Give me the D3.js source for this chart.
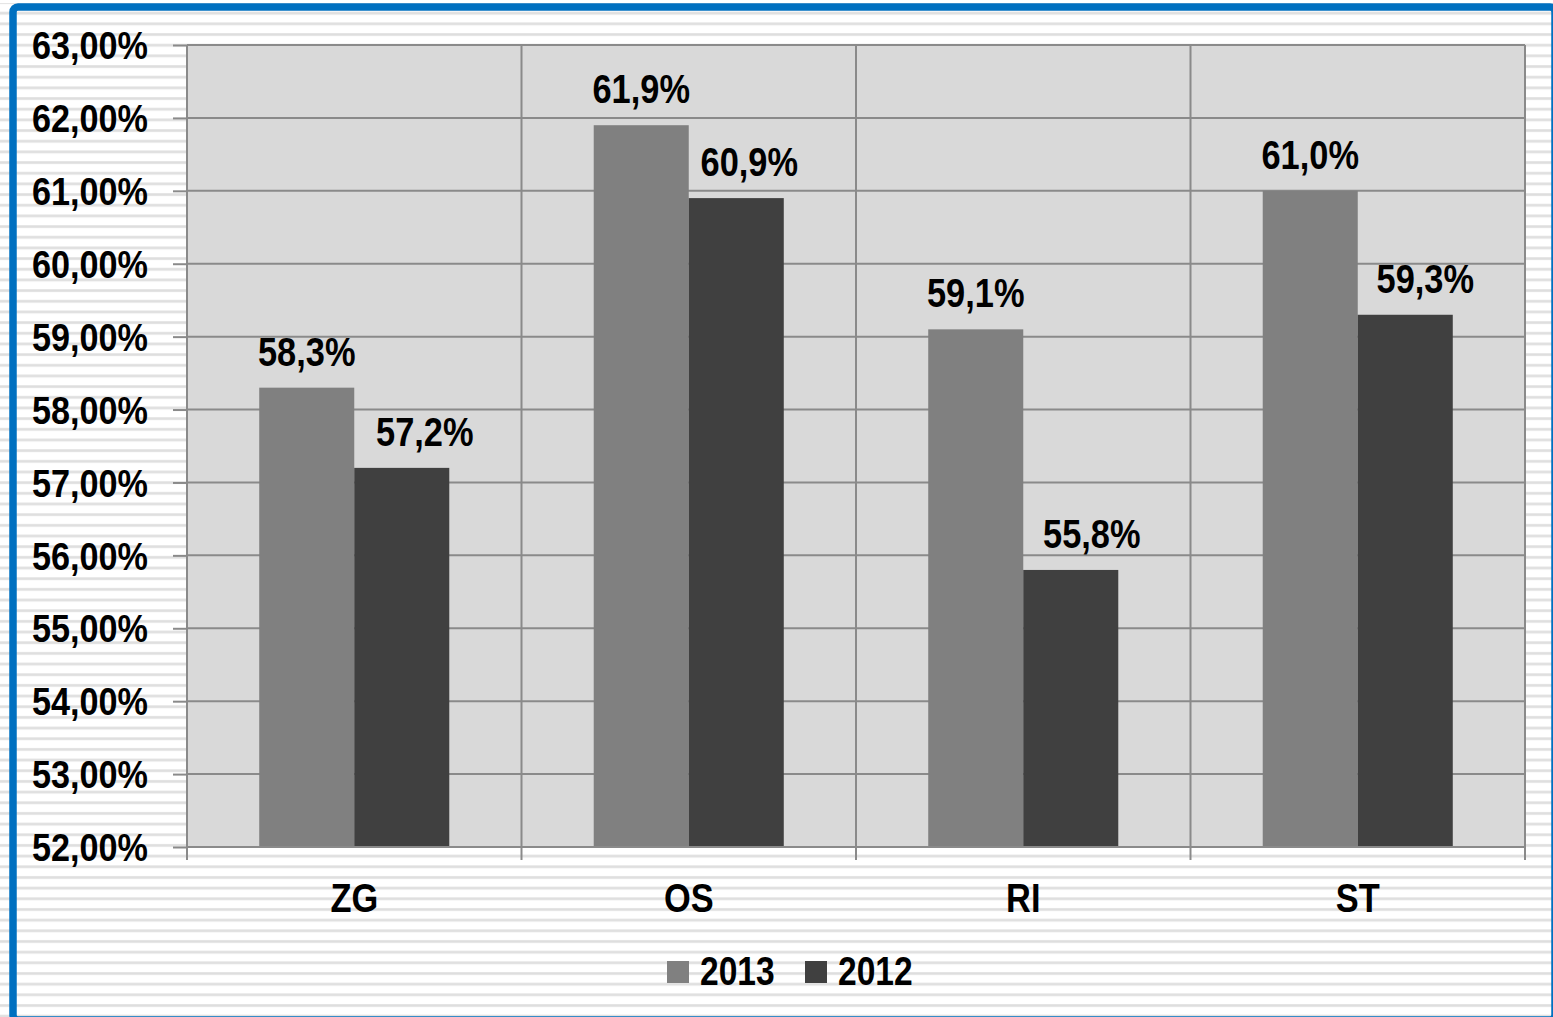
<!DOCTYPE html>
<html>
<head>
<meta charset="utf-8">
<script src="https://cdn.jsdelivr.net/npm/d3@7"></script>
<style>
  html, body { margin: 0; padding: 0; background: #fff; }
  svg { display: block; }
  text { font-family: "Liberation Sans", Arial, sans-serif; font-weight: bold; fill: #000; }
</style>
</head>
<body>
<svg id="chart" width="1553" height="1017"></svg>
<script>
// data
const categories = ['ZG', 'OS', 'RI', 'ST'];
const seriesNames = ['2013', '2012'];
const values2013 = [58.3, 61.9, 59.1, 61.0];
const values2012 = [57.2, 60.9, 55.8, 59.3];
const yTicks = [52, 53, 54, 55, 56, 57, 58, 59, 60, 61, 62, 63];
const seriesColors = ['#808080', '#404040'];

const W = 1553, H = 1017;
const plot = { left: 187, right: 1525, top: 45, bottom: 847 };
const GRID = '#8a8a8a';
// the 2012 labels sit nudged right of their bars (overlap avoidance in the original)
const LABEL_NUDGE = [[0, 0, 0, 0], [23, 13, 21, 20]];

const hr = d3.formatLocale({ decimal: ',', thousands: '.', grouping: [3], currency: ['', ' kn'] });
const fmtTick = v => hr.format('.2f')(v) + '%';
const fmtLabel = v => hr.format('.1f')(v) + '%';

// no narrow font installed, so squeeze the regular bold one horizontally
function narrow(sel, sx) {
  sel.each(function () {
    const t = d3.select(this);
    const tx = +t.attr('x') || 0, ty = +t.attr('y') || 0;
    t.attr('transform', `translate(${tx},${ty}) scale(${sx},1)`).attr('x', 0).attr('y', 0);
  });
}

const svg = d3.select('#chart');

// striped page background
const defs = svg.append('defs');
const pat = defs.append('pattern')
  .attr('id', 'stripes')
  .attr('patternUnits', 'userSpaceOnUse')
  .attr('width', 8)
  .attr('height', 10.67)
  .attr('y', 1);
pat.append('rect').attr('width', 8).attr('height', 10.67).attr('fill', '#ffffff');
pat.append('rect').attr('y', 0).attr('width', 8).attr('height', 3).attr('fill', '#e6e6e6');
pat.append('rect').attr('y', 0.8).attr('width', 8).attr('height', 1.4).attr('fill', '#dedede');

svg.append('rect').attr('width', W).attr('height', H).attr('fill', 'url(#stripes)');
svg.append('rect').attr('width', W).attr('height', 3).attr('fill', '#fff');

// blue frame
svg.append('rect')
  .attr('x', 13).attr('y', 7)
  .attr('width', 1542).attr('height', 1013)
  .attr('rx', 5)
  .attr('fill', 'none')
  .attr('stroke', '#0070c0')
  .attr('stroke-width', 7.5);

// scales
const x = d3.scaleBand().domain(categories).range([plot.left, plot.right]).padding(0);
const xs = d3.scaleBand().domain(seriesNames).range([0, x.bandwidth()])
  .paddingInner(0).paddingOuter(0.76);
const y = d3.scaleLinear().domain([52, 63]).range([plot.bottom, plot.top]);

// plot area
svg.append('rect')
  .attr('x', plot.left).attr('y', plot.top)
  .attr('width', plot.right - plot.left).attr('height', plot.bottom - plot.top)
  .attr('fill', '#d9d9d9');

// horizontal gridlines
svg.append('g').selectAll('line').data(yTicks).join('line')
  .attr('x1', plot.left).attr('x2', plot.right)
  .attr('y1', d => y(d)).attr('y2', d => y(d))
  .attr('stroke', GRID).attr('stroke-width', 2);

// vertical gridlines at category borders
const borders = categories.map(c => x(c)).concat([plot.right]);
svg.append('g').selectAll('line').data(borders).join('line')
  .attr('x1', d => d).attr('x2', d => d)
  .attr('y1', plot.top).attr('y2', plot.bottom)
  .attr('stroke', GRID).attr('stroke-width', 2);

// bars
const rows = categories.map((c, i) => ({ cat: c, i, vals: [values2013[i], values2012[i]] }));
const groups = svg.append('g').selectAll('g').data(rows).join('g')
  .attr('transform', d => `translate(${x(d.cat)},0)`);
groups.selectAll('rect')
  .data(d => d.vals.map((v, j) => ({ s: seriesNames[j], v, j, i: d.i })))
  .join('rect')
  .attr('x', d => xs(d.s))
  .attr('width', xs.bandwidth())
  .attr('y', d => y(d.v))
  .attr('height', d => y(52) - y(d.v))
  .attr('fill', d => seriesColors[d.j]);

// data labels
groups.selectAll('text')
  .data(d => d.vals.map((v, j) => ({ s: seriesNames[j], v, j, i: d.i })))
  .join('text')
  .attr('x', d => xs(d.s) + xs.bandwidth() / 2 + LABEL_NUDGE[d.j][d.i])
  .attr('y', d => y(d.v) - 22)
  .attr('text-anchor', 'middle')
  .attr('font-size', 40)
  .text(d => fmtLabel(d.v))
  .call(narrow, 0.86);

// y axis
const yAxis = svg.append('g')
  .attr('transform', `translate(${plot.left},0)`)
  .call(d3.axisLeft(y).tickValues(yTicks).tickFormat(fmtTick).tickSize(14).tickPadding(25));
yAxis.select('.domain').attr('d', `M0,${plot.top}V${plot.bottom + 13}`).attr('stroke', GRID).attr('stroke-width', 2);
yAxis.selectAll('.tick line').attr('stroke', GRID).attr('stroke-width', 2);
yAxis.selectAll('.tick text')
  .attr('font-size', 38).attr('font-family', null).attr('fill', '#000').attr('dy', '0.36em')
  .call(narrow, 0.9);

// x axis
const xAxis = svg.append('g')
  .attr('transform', `translate(0,${plot.bottom})`)
  .call(d3.axisBottom(x).tickSize(0).tickPadding(35));
xAxis.select('.domain').remove();
xAxis.selectAll('.tick text')
  .attr('font-size', 40).attr('font-family', null).attr('fill', '#000').attr('dy', '0.71em')
  .attr('y', 37)
  .call(narrow, 0.86);
xAxis.append('g').selectAll('line').data(borders).join('line')
  .attr('x1', d => d).attr('x2', d => d)
  .attr('y1', 0).attr('y2', 13)
  .attr('stroke', GRID).attr('stroke-width', 2);
xAxis.append('line')
  .attr('x1', plot.left).attr('x2', plot.right)
  .attr('stroke', GRID).attr('stroke-width', 2);

// legend
const legendX = [667, 805];
const legend = svg.append('g').selectAll('g').data(seriesNames).join('g')
  .attr('transform', (d, i) => `translate(${legendX[i]},961)`);
legend.append('rect').attr('width', 22).attr('height', 22).attr('fill', (d, i) => seriesColors[i]);
legend.append('text').attr('x', 33).attr('y', 24).attr('font-size', 40).text(d => d)
  .call(narrow, 0.84);
</script>
</body>
</html>
